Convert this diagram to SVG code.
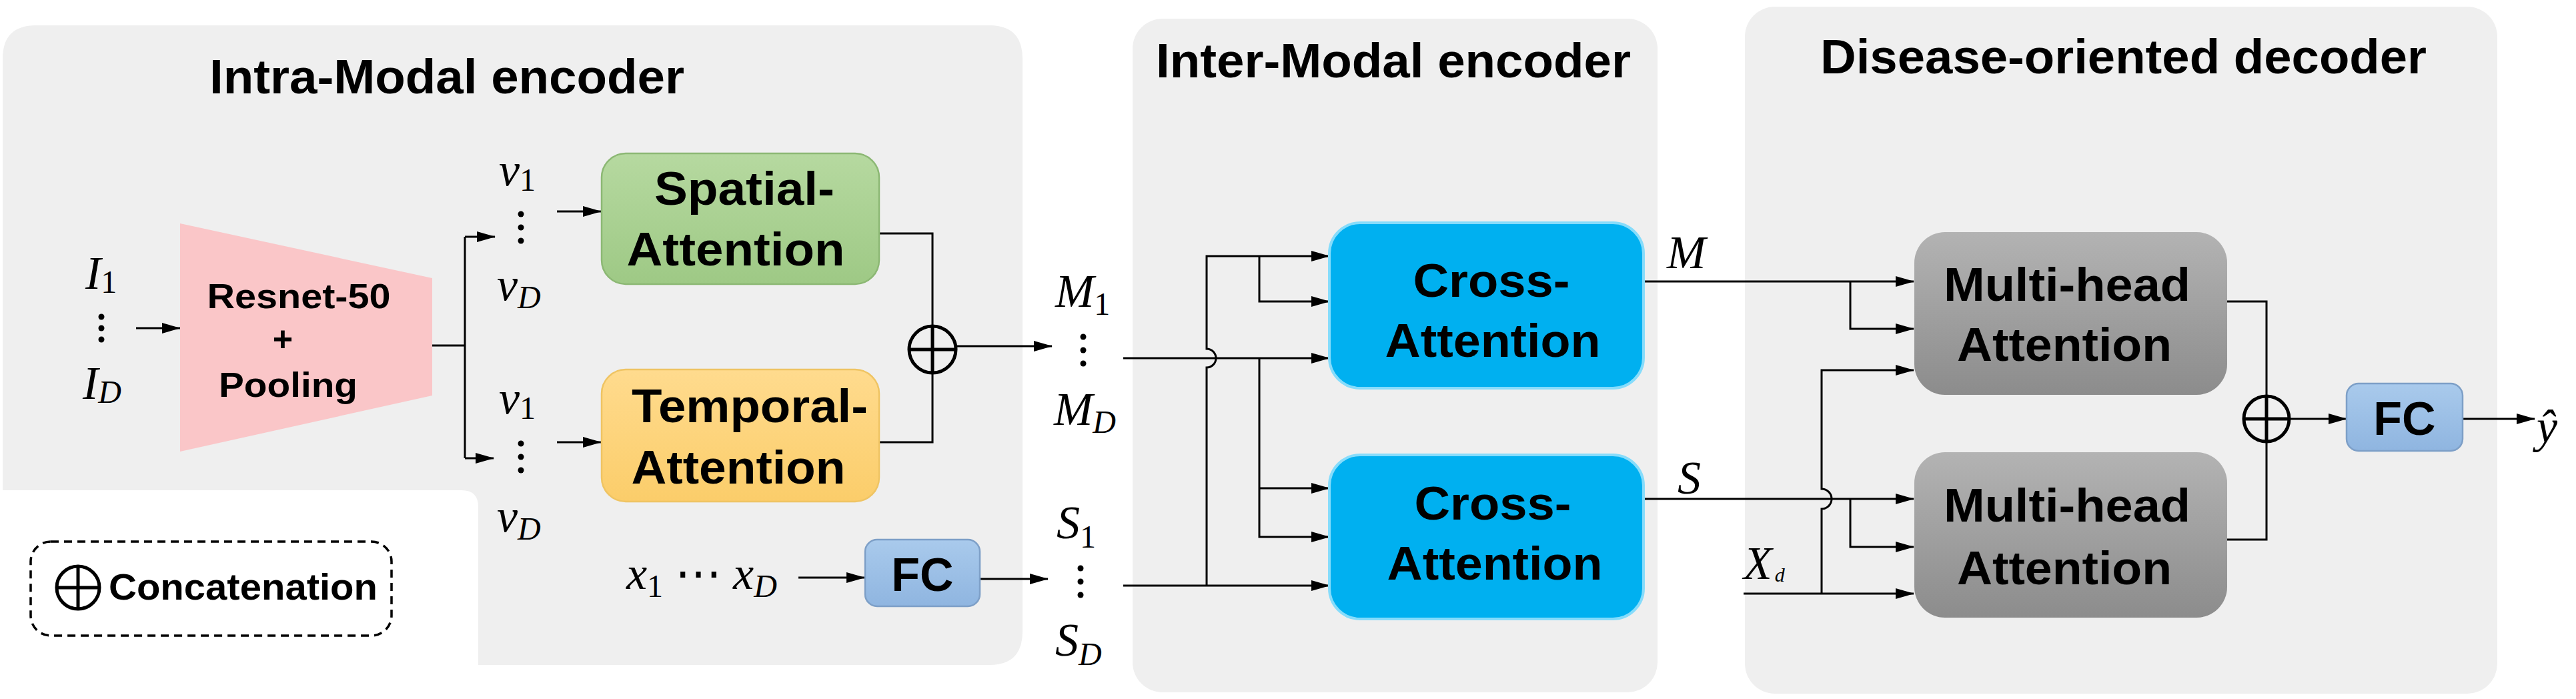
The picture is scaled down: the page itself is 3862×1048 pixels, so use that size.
<svg xmlns="http://www.w3.org/2000/svg" width="3862" height="1048" viewBox="0 0 3862 1048">
<style>
.panel{fill:#efefef;}
.title{font-family:"Liberation Sans",Arial,sans-serif;font-weight:bold;font-size:72px;fill:#000;}
.lbl{font-family:"Liberation Sans",Arial,sans-serif;font-weight:bold;font-size:70px;fill:#000;text-anchor:middle;}
.lbl2{font-family:"Liberation Sans",Arial,sans-serif;font-weight:bold;font-size:52px;fill:#000;text-anchor:middle;}
.math{font-family:"Liberation Serif","Times New Roman",serif;font-style:italic;font-size:70px;fill:#000;}
.up{font-style:normal;}
.ln{fill:none;stroke:#000;stroke-width:3;}
.arr{fill:none;stroke:#000;stroke-width:3;marker-end:url(#ah);}
.dot{fill:#000;}
.cc{fill:none;stroke:#000;stroke-width:5;}
</style>
<defs>
<marker id="ah" markerUnits="userSpaceOnUse" markerWidth="28" markerHeight="18" refX="27" refY="9" orient="auto">
<path d="M0,1 L28,9 L0,17 Z" fill="#000"/>
</marker>
<linearGradient id="gGreen" x1="0" y1="0" x2="0" y2="1"><stop offset="0" stop-color="#b6d9a0"/><stop offset="1" stop-color="#9ec985"/></linearGradient>
<linearGradient id="gOrange" x1="0" y1="0" x2="0" y2="1"><stop offset="0" stop-color="#ffdb8e"/><stop offset="1" stop-color="#fbcd6a"/></linearGradient>
<linearGradient id="gGray" x1="0" y1="0" x2="0" y2="1"><stop offset="0" stop-color="#b3b3b3"/><stop offset="1" stop-color="#8c8c8c"/></linearGradient>
<linearGradient id="gBlue" x1="0" y1="0" x2="0" y2="1"><stop offset="0" stop-color="#a9caec"/><stop offset="1" stop-color="#8fb5e0"/></linearGradient>
</defs>

<g id="panel-intra">
<path class="panel" d="M4,88 Q4,38 54,38 H1483 Q1533,38 1533,88 V947 Q1533,997 1483,997 H717 V760 Q717,735 692,735 H4 Z"/>
<text class="title" x="314" y="140" textLength="712" lengthAdjust="spacingAndGlyphs">Intra-Modal encoder</text>
</g>
<g id="panel-inter">
<rect class="panel" x="1698" y="28" width="787" height="1010" rx="45"/>
<text class="title" x="1733" y="116" textLength="712" lengthAdjust="spacingAndGlyphs">Inter-Modal encoder</text>
</g>
<g id="panel-decoder">
<rect class="panel" x="2616" y="10" width="1128" height="1030" rx="45"/>
<text class="title" x="2729" y="110" textLength="909" lengthAdjust="spacingAndGlyphs">Disease-oriented decoder</text>
</g>

<g id="connectors">
<path class="arr" d="M204,492 H270"/>
<path class="ln" d="M648,518 H697 M697,355 V687"/>
<path class="arr" d="M697,355 H742"/>
<path class="arr" d="M697,687 H740"/>
<path class="arr" d="M835,317 H901"/>
<path class="arr" d="M835,663 H901"/>
<path class="ln" d="M1319,350 H1398 V663 H1319"/>
<path class="arr" d="M1433,519 H1577"/>
<path class="arr" d="M1197,866 H1296"/>
<path class="arr" d="M1469,868 H1571"/>
<path class="arr" d="M1684,537 H1993"/>
<path class="arr" d="M1684,878 H1993"/>
<path class="arr" d="M1809,878 V551 A14,14 0 0 0 1809,523 V384 H1993"/>
<path class="arr" d="M1888,384 V452 H1993"/>
<path class="arr" d="M1888,537 V805 H1993"/>
<path class="arr" d="M1888,732 H1993"/>
<path class="arr" d="M2464,422 H2869"/>
<path class="arr" d="M2774,422 V493 H2869"/>
<path class="arr" d="M2464,748 H2869"/>
<path class="arr" d="M2774,748 V820 H2869"/>
<path class="arr" d="M2614,890 H2869"/>
<path class="arr" d="M2731,890 V763 A15,15 0 0 0 2731,733 V555 H2869"/>
<path class="ln" d="M3339,452 H3398 V809 H3339"/>
<path class="arr" d="M3432,628 H3518"/>
<path class="arr" d="M3692,628 H3800"/>
</g>

<g id="node-inputs-I">
<text class="math" x="128" y="433">I<tspan class="up" font-size="48" dy="6">1</tspan></text>
<circle class="dot" cx="152" cy="475" r="4.5"/><circle class="dot" cx="152" cy="492" r="4.5"/><circle class="dot" cx="152" cy="509" r="4.5"/>
<text class="math" x="124" y="598">I<tspan font-size="48" dy="6">D</tspan></text>
</g>

<g id="node-resnet">
<polygon points="270,335 648,417 648,593 270,677" fill="#fac6c8"/>
<text class="lbl2" x="448" y="462" textLength="275" lengthAdjust="spacingAndGlyphs">Resnet-50</text>
<text class="lbl2" x="424" y="526">+</text>
<text class="lbl2" x="432" y="595" textLength="208" lengthAdjust="spacingAndGlyphs">Pooling</text>
</g>

<g id="node-v-spatial">
<text class="math" x="748" y="278">v<tspan class="up" font-size="48" dy="8">1</tspan></text>
<circle class="dot" cx="781" cy="321" r="4.5"/><circle class="dot" cx="781" cy="341" r="4.5"/><circle class="dot" cx="781" cy="361" r="4.5"/>
<text class="math" x="745" y="450">v<tspan font-size="48" dy="12">D</tspan></text>
</g>
<g id="node-v-temporal">
<text class="math" x="748" y="620">v<tspan class="up" font-size="48" dy="8">1</tspan></text>
<circle class="dot" cx="781" cy="665" r="4.5"/><circle class="dot" cx="781" cy="685" r="4.5"/><circle class="dot" cx="781" cy="705" r="4.5"/>
<text class="math" x="745" y="797">v<tspan font-size="48" dy="12">D</tspan></text>
</g>

<g id="node-spatial">
<rect x="902" y="230" width="416" height="196" rx="36" fill="url(#gGreen)" stroke="#8cb874" stroke-width="2.5"/>
<text class="lbl" x="1116" y="307" textLength="270" lengthAdjust="spacingAndGlyphs">Spatial-</text>
<text class="lbl" x="1103" y="398" textLength="327" lengthAdjust="spacingAndGlyphs">Attention</text>
</g>
<g id="node-temporal">
<rect x="902" y="554" width="416" height="198" rx="36" fill="url(#gOrange)" stroke="#efc463" stroke-width="2.5"/>
<text class="lbl" x="1124" y="633" textLength="354" lengthAdjust="spacingAndGlyphs">Temporal-</text>
<text class="lbl" x="1107" y="725" textLength="321" lengthAdjust="spacingAndGlyphs">Attention</text>
</g>

<g id="node-concat1">
<circle class="cc" cx="1398" cy="524" r="35"/>
<path class="cc" d="M1363,524 H1433 M1398,489 V559"/>
</g>

<g id="node-x">
<text class="math" x="939" y="883">x<tspan class="up" font-size="48" dy="12">1</tspan><tspan class="up" dy="-12"> ⋯ </tspan>x<tspan font-size="48" dy="12">D</tspan></text>
</g>
<g id="node-fc1">
<rect x="1297" y="809" width="172" height="100" rx="18" fill="url(#gBlue)" stroke="#7d9fc7" stroke-width="2.5"/>
<text class="lbl" x="1383" y="886">FC</text>
</g>

<g id="node-M-seq">
<text class="math" x="1582" y="460">M<tspan class="up" font-size="48" dy="12">1</tspan></text>
<circle class="dot" cx="1624" cy="505" r="4.5"/><circle class="dot" cx="1624" cy="525" r="4.5"/><circle class="dot" cx="1624" cy="545" r="4.5"/>
<text class="math" x="1580" y="637">M<tspan font-size="48" dy="12">D</tspan></text>
</g>
<g id="node-S-seq">
<text class="math" x="1584" y="807">S<tspan class="up" font-size="48" dy="14">1</tspan></text>
<circle class="dot" cx="1620" cy="852" r="4.5"/><circle class="dot" cx="1620" cy="872" r="4.5"/><circle class="dot" cx="1620" cy="892" r="4.5"/>
<text class="math" x="1582" y="983">S<tspan font-size="48" dy="14">D</tspan></text>
</g>

<g id="node-cross1">
<rect x="1993" y="334" width="471" height="248" rx="46" fill="#00b0f0" stroke="#86dcfb" stroke-width="4"/>
<text class="lbl" x="2236" y="445" textLength="235" lengthAdjust="spacingAndGlyphs">Cross-</text>
<text class="lbl" x="2238" y="535" textLength="323" lengthAdjust="spacingAndGlyphs">Attention</text>
</g>
<g id="node-cross2">
<rect x="1993" y="682" width="471" height="246" rx="46" fill="#00b0f0" stroke="#86dcfb" stroke-width="4"/>
<text class="lbl" x="2238" y="779" textLength="235" lengthAdjust="spacingAndGlyphs">Cross-</text>
<text class="lbl" x="2241" y="869" textLength="323" lengthAdjust="spacingAndGlyphs">Attention</text>
</g>

<g id="node-M">
<text class="math" x="2499" y="402" font-size="84">M</text>
</g>
<g id="node-S">
<text class="math" x="2515" y="740" font-size="88">S</text>
</g>
<g id="node-Xd">
<text class="math" x="2614" y="868" font-size="74">X<tspan font-size="30" dx="4" dy="4">d</tspan></text>
</g>

<g id="node-mha1">
<rect x="2870" y="348" width="469" height="244" rx="46" fill="url(#gGray)"/>
<text class="lbl" x="3099" y="451" textLength="370" lengthAdjust="spacingAndGlyphs">Multi-head</text>
<text class="lbl" x="3095" y="541" textLength="322" lengthAdjust="spacingAndGlyphs">Attention</text>
</g>
<g id="node-mha2">
<rect x="2870" y="678" width="469" height="248" rx="46" fill="url(#gGray)"/>
<text class="lbl" x="3099" y="782" textLength="370" lengthAdjust="spacingAndGlyphs">Multi-head</text>
<text class="lbl" x="3095" y="876" textLength="322" lengthAdjust="spacingAndGlyphs">Attention</text>
</g>

<g id="node-concat2">
<circle class="cc" cx="3398" cy="628" r="34"/>
<path class="cc" d="M3364,628 H3432 M3398,594 V662"/>
</g>
<g id="node-fc2">
<rect x="3518" y="575" width="174" height="101" rx="18" fill="url(#gBlue)" stroke="#7d9fc7" stroke-width="2.5"/>
<text class="lbl" x="3605" y="652">FC</text>
</g>
<g id="node-yhat">
<text class="math" x="3803" y="663" font-size="92">ŷ</text>
</g>

<g id="legend">
<rect x="46" y="812" width="541" height="141" rx="30" fill="none" stroke="#000" stroke-width="3.5" stroke-dasharray="12 8"/>
<circle class="cc" cx="117" cy="881" r="32"/>
<path class="cc" d="M85,881 H149 M117,849 V913"/>
<text x="163" y="899" font-family="Liberation Sans, Arial, sans-serif" font-weight="bold" font-size="56" textLength="403" lengthAdjust="spacingAndGlyphs">Concatenation</text>
</g>
</svg>
